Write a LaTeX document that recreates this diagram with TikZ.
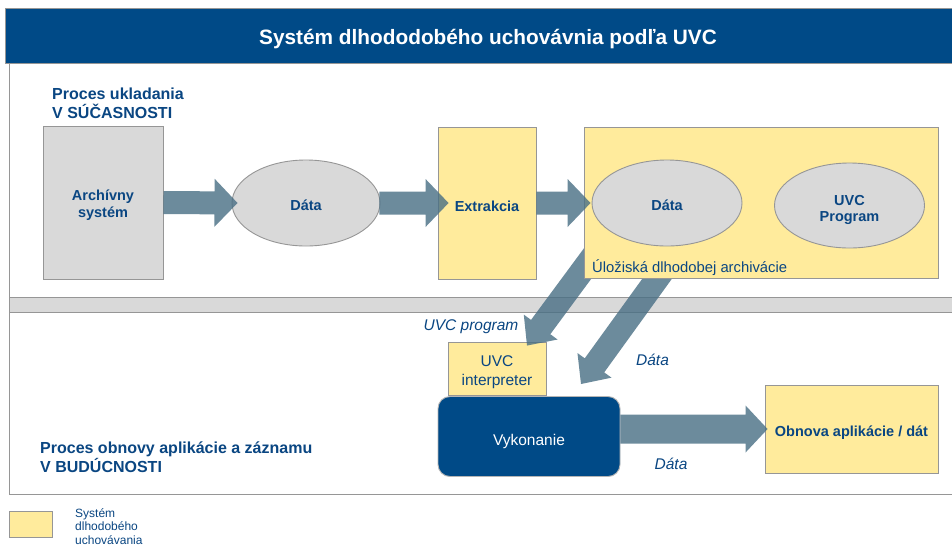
\documentclass[tikz,border=0pt]{standalone}
\usepackage{fontspec}
\setmainfont{Liberation Sans}
\usetikzlibrary{calc,shapes.geometric}
\definecolor{uvcblue}{RGB}{0,74,135}
\definecolor{uvctext}{RGB}{10,70,130}
\definecolor{uvcyellow}{RGB}{255,235,156}
\definecolor{uvcgray}{RGB}{217,217,217}
\definecolor{uvcline}{RGB}{150,150,150}
\definecolor{uvcarrow}{RGB}{72,110,132}
\newcommand\fatarrow[5]{%
  \coordinate (fabase) at ($(#2)!#5!(#1)$);
  \fill[fatarrowstyle] ($(#1)!#3!90:(#2)$) -- ($(fabase)!#3!-90:(#1)$) -- ($(fabase)!#4!-90:(#1)$) -- (#2) -- ($(fabase)!#4!90:(#1)$) -- ($(fabase)!#3!90:(#1)$) -- ($(#1)!#3!-90:(#2)$) -- cycle;
}
\begin{document}
\begin{tikzpicture}[x=1pt,y=-1pt,
  fatarrowstyle/.style={fill=uvcarrow, fill opacity=0.8},
  shapebox/.style={draw=uvcline, line width=0.9pt, inner sep=0pt},
  graybox/.style={shapebox, fill=uvcgray},
  yellowbox/.style={shapebox, fill=uvcyellow},
  grayell/.style={shapebox, ellipse, fill=uvcgray},
  txt/.style={text=uvctext, inner sep=0pt},
  boldtxt/.style={txt, align=center, font=\fontsize{14.5}{16.5}\selectfont\bfseries},
  plaintxt/.style={txt, align=center, font=\fontsize{15.5}{19}\selectfont},
  headtxt/.style={txt, align=left, anchor=west, font=\fontsize{16}{19}\selectfont\bfseries},
  itxt/.style={txt, font=\fontsize{15.5}{18}\selectfont\itshape}]
\useasboundingbox (0,0) rectangle (952,544);
\clip (0,0) rectangle (952,544);
\fill[white] (0,0) rectangle (952,544);

% title band
\node[draw=uvcline, line width=1pt, fill=uvcblue, minimum width=960pt, minimum height=55.5pt, anchor=north west, inner sep=0pt] (band) at (5,7.5) {};
\node[text=white, inner sep=0pt, font=\fontsize{20.8}{24}\selectfont\bfseries] (title) at (488,39) {Systém dlhododobého uchovávnia podľa UVC};

% panels
\draw[uvcline, line width=1pt] (9,63) -- (9,494) -- (960,494);
\filldraw[fill=uvcgray, draw=uvcline, line width=1pt] (9,297) rectangle (960,312);

% headings
\node[headtxt] (head1) at (52,103.5) {Proces ukladania\\V SÚČASNOSTI};
\node[headtxt] (head2) at (40,457.5) {Proces obnovy aplikácie a záznamu\\V BUDÚCNOSTI};

% UVC interpreter box
\node[yellowbox, minimum width=98pt, minimum height=53pt] (interp) at (497,368.5) {};
\node[plaintxt] (interptxt) at (497,372.5) {UVC\\interpreter};

% diagonal arrows (beneath the storage box)
\coordinate (startA) at (605,240);
\coordinate (tipA) at ($(interp.north)+(30,4)$);
\coordinate (startB) at (675,254);
\coordinate (tipB) at (581,384);
\fatarrow{startA}{tipA}{12pt}{21pt}{23pt}
\fatarrow{startB}{tipB}{12pt}{21pt}{23pt}

% storage
\node[yellowbox, minimum width=354pt, minimum height=151pt] (store) at (761,202.5) {};
\node[grayell, minimum width=150pt, minimum height=86pt] (data2) at (667,203) {};
\node[boldtxt] (data2txt) at (667,205) {Dáta};
\node[grayell, minimum width=150pt, minimum height=85pt] (prog) at (849.5,205.5) {};
\node[boldtxt] (progtxt) at (849.5,210) {UVC\\Program};
\node[txt, anchor=west, font=\fontsize{14.8}{17}\selectfont] (storetxt) at (592,267.2) {Úložiská dlhodobej archivácie};

% upper row
\node[graybox, minimum width=120pt, minimum height=153pt] (arch) at (103,202.5) {};
\node[boldtxt] (archtxt) at (103,205) {Archívny\\systém};
\node[grayell, minimum width=148pt, minimum height=86pt] (data1) at (306,203) {};
\node[boldtxt] (data1txt) at (306,205) {Dáta};
\node[yellowbox, minimum width=98pt, minimum height=152pt] (extr) at (487,203) {};
\node[boldtxt] (extrtxt) at (487,206) {Extrakcia};

% lower row
\node[draw=uvcline!70, line width=0.9pt, fill=uvcblue, rounded corners=12pt, minimum width=182pt, minimum height=80pt, inner sep=0pt] (vyk) at (529,436.5) {};
\node[text=white, inner sep=0pt, font=\fontsize{15.5}{18}\selectfont] (vyktxt) at (529,441) {Vykonanie};
\node[yellowbox, minimum width=173pt, minimum height=88pt] (obnova) at (851.5,429) {};
\node[boldtxt] (obnovatxt) at (851.5,433) {Obnova aplikácie / dát};

% horizontal arrows
\coordinate (tip1) at ($(data1.west)+(6,0)$);
\coordinate (start2) at ($(data1.east)+(-1,0)$);
\coordinate (tip2) at ($(extr.west)+(11,0)$);
\coordinate (tip3) at ($(store.west)+(7,0.5)$);
\coordinate (start4) at (vyk.east |- obnova.west);
\coordinate (tip4) at ($(obnova.west)+(3,0)$);
\fatarrow{arch.east}{tip1}{11.5pt}{24pt}{23pt}
\fatarrow{start2}{tip2}{11.5pt}{24pt}{23pt}
\fatarrow{extr.east}{tip3}{11.5pt}{24pt}{23pt}
\fatarrow{start4}{tip4}{14.5pt}{23.5pt}{22pt}

% connector labels
\node[itxt] (lblprog) at (471,326.5) {UVC program};
\node[itxt] (lbldata1) at (652.5,360) {Dáta};
\node[itxt] (lbldata2) at (671,464) {Dáta};

% legend
\node[yellowbox, minimum width=43pt, minimum height=26pt] (legbox) at (30.5,524) {};
\node[txt, anchor=west, align=left, font=\fontsize{12}{13.5}\selectfont] (legtxt) at (75,526.4) {Systém\\dlhodobého\\uchovávania};
\end{tikzpicture}
\end{document}
